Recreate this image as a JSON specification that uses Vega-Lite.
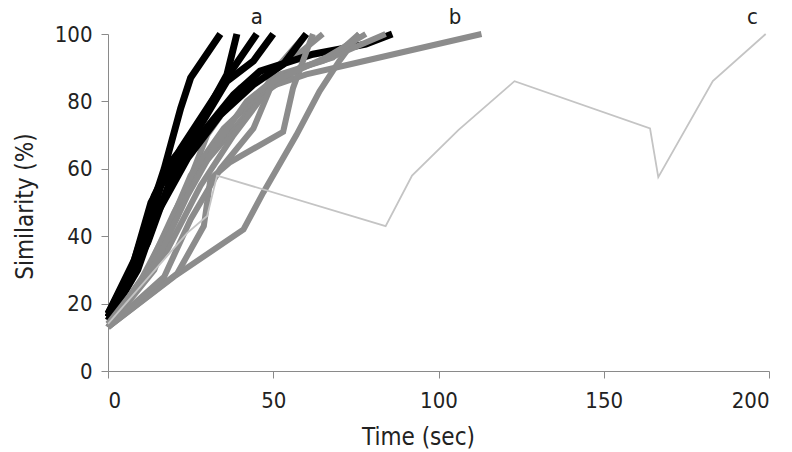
{
  "$schema": "https://vega.github.io/schema/vega-lite/v6.json",
  "width": 661,
  "height": 337,
  "autosize": {"type": "none"},
  "padding": {"left": 108, "top": 34, "right": 23, "bottom": 81},
  "background": "white",
  "config": {
    "view": {"stroke": null},
    "font": "DejaVu Sans Condensed, DejaVu Sans",
    "axis": {
      "grid": false,
      "domainColor": "#8a8a8a",
      "tickColor": "#8a8a8a",
      "tickSize": 7,
      "labelFont": "DejaVu Sans Condensed, DejaVu Sans",
      "labelFontSize": 22,
      "labelColor": "#222",
      "titleFont": "DejaVu Sans Condensed, DejaVu Sans",
      "titleFontSize": 24,
      "titleFontWeight": "normal",
      "titleColor": "#222"
    }
  },
  "datasets": {
    "lines": [
      {"group": "a", "series": "a1", "t": 0, "s": 17}, {"group": "a", "series": "a1", "t": 7, "s": 30}, {"group": "a", "series": "a1", "t": 13, "s": 48}, {"group": "a", "series": "a1", "t": 17, "s": 60}, {"group": "a", "series": "a1", "t": 22, "s": 78}, {"group": "a", "series": "a1", "t": 25, "s": 87}, {"group": "a", "series": "a1", "t": 34, "s": 100},
      {"group": "a", "series": "a2", "t": 0, "s": 16}, {"group": "a", "series": "a2", "t": 8, "s": 32}, {"group": "a", "series": "a2", "t": 14, "s": 52}, {"group": "a", "series": "a2", "t": 19, "s": 62}, {"group": "a", "series": "a2", "t": 27, "s": 72}, {"group": "a", "series": "a2", "t": 36, "s": 88}, {"group": "a", "series": "a2", "t": 39, "s": 100},
      {"group": "a", "series": "a3", "t": 0, "s": 16}, {"group": "a", "series": "a3", "t": 10, "s": 35}, {"group": "a", "series": "a3", "t": 16, "s": 55}, {"group": "a", "series": "a3", "t": 25, "s": 68}, {"group": "a", "series": "a3", "t": 36, "s": 86}, {"group": "a", "series": "a3", "t": 44, "s": 92}, {"group": "a", "series": "a3", "t": 50, "s": 100},
      {"group": "a", "series": "a4", "t": 0, "s": 17}, {"group": "a", "series": "a4", "t": 8, "s": 33}, {"group": "a", "series": "a4", "t": 13, "s": 50}, {"group": "a", "series": "a4", "t": 22, "s": 66}, {"group": "a", "series": "a4", "t": 30, "s": 78}, {"group": "a", "series": "a4", "t": 38, "s": 90}, {"group": "a", "series": "a4", "t": 45, "s": 100},
      {"group": "a", "series": "a5", "t": 0, "s": 15}, {"group": "a", "series": "a5", "t": 9, "s": 30}, {"group": "a", "series": "a5", "t": 15, "s": 47}, {"group": "a", "series": "a5", "t": 24, "s": 63}, {"group": "a", "series": "a5", "t": 34, "s": 76}, {"group": "a", "series": "a5", "t": 44, "s": 85}, {"group": "a", "series": "a5", "t": 53, "s": 91}, {"group": "a", "series": "a5", "t": 60, "s": 100},
      {"group": "a", "series": "a6", "t": 0, "s": 16}, {"group": "a", "series": "a6", "t": 12, "s": 38}, {"group": "a", "series": "a6", "t": 19, "s": 57}, {"group": "a", "series": "a6", "t": 28, "s": 70}, {"group": "a", "series": "a6", "t": 38, "s": 82}, {"group": "a", "series": "a6", "t": 46, "s": 89}, {"group": "a", "series": "a6", "t": 62, "s": 94}, {"group": "a", "series": "a6", "t": 78, "s": 97}, {"group": "a", "series": "a6", "t": 86, "s": 100},
      {"group": "b", "series": "b1", "t": 0, "s": 13}, {"group": "b", "series": "b1", "t": 10, "s": 27}, {"group": "b", "series": "b1", "t": 18, "s": 42}, {"group": "b", "series": "b1", "t": 25, "s": 58}, {"group": "b", "series": "b1", "t": 35, "s": 72}, {"group": "b", "series": "b1", "t": 48, "s": 84}, {"group": "b", "series": "b1", "t": 60, "s": 88}, {"group": "b", "series": "b1", "t": 71, "s": 90.5}, {"group": "b", "series": "b1", "t": 113, "s": 100},
      {"group": "b", "series": "b2", "t": 0, "s": 13}, {"group": "b", "series": "b2", "t": 20, "s": 28}, {"group": "b", "series": "b2", "t": 41, "s": 42}, {"group": "b", "series": "b2", "t": 47, "s": 53}, {"group": "b", "series": "b2", "t": 57, "s": 70}, {"group": "b", "series": "b2", "t": 64, "s": 83}, {"group": "b", "series": "b2", "t": 70, "s": 92}, {"group": "b", "series": "b2", "t": 76, "s": 100},
      {"group": "b", "series": "b3", "t": 0, "s": 13}, {"group": "b", "series": "b3", "t": 21, "s": 29}, {"group": "b", "series": "b3", "t": 29, "s": 43}, {"group": "b", "series": "b3", "t": 31, "s": 57}, {"group": "b", "series": "b3", "t": 37, "s": 62}, {"group": "b", "series": "b3", "t": 53, "s": 71}, {"group": "b", "series": "b3", "t": 56, "s": 84}, {"group": "b", "series": "b3", "t": 62, "s": 100},
      {"group": "bu", "series": "b4", "t": 0, "s": 13}, {"group": "bu", "series": "b4", "t": 12, "s": 30}, {"group": "bu", "series": "b4", "t": 20, "s": 47}, {"group": "bu", "series": "b4", "t": 26, "s": 58}, {"group": "bu", "series": "b4", "t": 33, "s": 66}, {"group": "bu", "series": "b4", "t": 45, "s": 80}, {"group": "bu", "series": "b4", "t": 52, "s": 91}, {"group": "bu", "series": "b4", "t": 60, "s": 100},
      {"group": "b", "series": "b5", "t": 0, "s": 14}, {"group": "b", "series": "b5", "t": 15, "s": 33}, {"group": "b", "series": "b5", "t": 24, "s": 52}, {"group": "b", "series": "b5", "t": 32, "s": 66}, {"group": "b", "series": "b5", "t": 42, "s": 80}, {"group": "b", "series": "b5", "t": 52, "s": 88}, {"group": "b", "series": "b5", "t": 65, "s": 92}, {"group": "b", "series": "b5", "t": 84, "s": 100},
      {"group": "bu", "series": "b6", "t": 0, "s": 13}, {"group": "bu", "series": "b6", "t": 14, "s": 30}, {"group": "bu", "series": "b6", "t": 22, "s": 50}, {"group": "bu", "series": "b6", "t": 30, "s": 70}, {"group": "bu", "series": "b6", "t": 40, "s": 84}, {"group": "bu", "series": "b6", "t": 55, "s": 92}, {"group": "bu", "series": "b6", "t": 65, "s": 100},
      {"group": "bu", "series": "b7", "t": 0, "s": 14}, {"group": "bu", "series": "b7", "t": 18, "s": 36}, {"group": "bu", "series": "b7", "t": 28, "s": 55}, {"group": "bu", "series": "b7", "t": 38, "s": 70}, {"group": "bu", "series": "b7", "t": 48, "s": 83}, {"group": "bu", "series": "b7", "t": 58, "s": 90}, {"group": "bu", "series": "b7", "t": 68, "s": 93}, {"group": "bu", "series": "b7", "t": 76, "s": 100},
      {"group": "b", "series": "b8", "t": 0, "s": 13}, {"group": "b", "series": "b8", "t": 17, "s": 28}, {"group": "b", "series": "b8", "t": 25, "s": 45}, {"group": "b", "series": "b8", "t": 34, "s": 60}, {"group": "b", "series": "b8", "t": 44, "s": 72}, {"group": "b", "series": "b8", "t": 50, "s": 86}, {"group": "b", "series": "b8", "t": 66, "s": 93}, {"group": "b", "series": "b8", "t": 78, "s": 100},
      {"group": "c", "series": "c1", "t": 0, "s": 14}, {"group": "c", "series": "c1", "t": 16, "s": 32}, {"group": "c", "series": "c1", "t": 24, "s": 41}, {"group": "c", "series": "c1", "t": 30, "s": 46}, {"group": "c", "series": "c1", "t": 33, "s": 58}, {"group": "c", "series": "c1", "t": 84, "s": 43}, {"group": "c", "series": "c1", "t": 92, "s": 58}, {"group": "c", "series": "c1", "t": 106, "s": 71.5}, {"group": "c", "series": "c1", "t": 123, "s": 86}, {"group": "c", "series": "c1", "t": 164, "s": 72}, {"group": "c", "series": "c1", "t": 166.5, "s": 57.5}, {"group": "c", "series": "c1", "t": 183, "s": 86}, {"group": "c", "series": "c1", "t": 199, "s": 100}
    ],
    "labels": [
      {"label": "a", "t": 45, "s": 105},
      {"label": "b", "t": 105, "s": 105},
      {"label": "c", "t": 195, "s": 105}
    ]
  },
  "layer": [
    {
      "data": {"name": "lines"},
      "transform": [{"filter": "datum.group === 'bu'"}],
      "mark": {"type": "line", "color": "#8c8c8c", "strokeWidth": 6, "strokeJoin": "miter", "clip": false},
      "encoding": {
        "x": {"field": "t", "type": "quantitative", "scale": {"domain": [0, 200]}, "axis": {"values": [0, 50, 100, 150, 200], "title": "Time (sec)", "labelPadding": 12, "titleX": 310, "titleY": 66, "titleBaseline": "middle"}},
        "y": {"field": "s", "type": "quantitative", "scale": {"domain": [0, 100]}, "axis": {"values": [0, 20, 40, 60, 80, 100], "title": "Similarity (%)", "labelPadding": 9, "titleX": -83, "titleY": 172, "titleAngle": -90, "titleBaseline": "middle", "titleAlign": "center"}},
        "detail": {"field": "series"}
      }
    },
    {
      "data": {"name": "lines"},
      "transform": [{"filter": "datum.group === 'a'"}],
      "mark": {"type": "line", "color": "#000000", "strokeWidth": 7, "strokeJoin": "miter", "clip": false},
      "encoding": {
        "x": {"field": "t", "type": "quantitative"},
        "y": {"field": "s", "type": "quantitative"},
        "detail": {"field": "series"}
      }
    },
    {
      "data": {"name": "lines"},
      "transform": [{"filter": "datum.group === 'b'"}],
      "mark": {"type": "line", "color": "#8c8c8c", "strokeWidth": 6, "strokeJoin": "miter", "clip": false},
      "encoding": {
        "x": {"field": "t", "type": "quantitative"},
        "y": {"field": "s", "type": "quantitative"},
        "detail": {"field": "series"}
      }
    },
    {
      "data": {"name": "lines"},
      "transform": [{"filter": "datum.group === 'c'"}],
      "mark": {"type": "line", "color": "#c4c4c4", "strokeWidth": 1.8, "clip": false},
      "encoding": {
        "x": {"field": "t", "type": "quantitative"},
        "y": {"field": "s", "type": "quantitative"},
        "detail": {"field": "series"}
      }
    },
    {
      "data": {"name": "labels"},
      "mark": {"type": "text", "fontSize": 22, "color": "#222", "baseline": "middle", "align": "center"},
      "encoding": {
        "x": {"field": "t", "type": "quantitative"},
        "y": {"field": "s", "type": "quantitative"},
        "text": {"field": "label"}
      }
    }
  ]
}
